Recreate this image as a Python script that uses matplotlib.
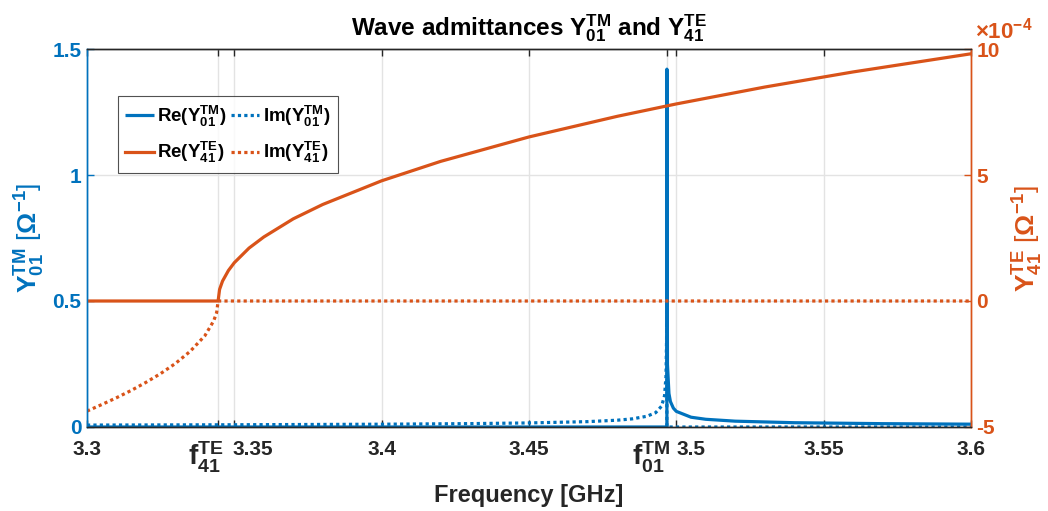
import matplotlib
matplotlib.use("Agg")
import matplotlib.pyplot as plt
from matplotlib.transforms import ScaledTranslation, blended_transform_factory

plt.rcParams['font.family'] = ['Liberation Sans', 'DejaVu Sans']
plt.rcParams['font.weight'] = 'bold'
plt.rcParams['mathtext.fontset'] = 'custom'
plt.rcParams['mathtext.bf'] = 'Liberation Sans:bold'
plt.rcParams['mathtext.rm'] = 'Liberation Sans:bold'
plt.rcParams['mathtext.it'] = 'Liberation Sans:bold'
plt.rcParams['mathtext.default'] = 'bf'

BLUE = '#0072BD'
ORANGE = '#D95319'
DARK = '#262626'

# ---------------- data ----------------
f41_te = 3.3445   # GHz, TE41 cutoff
f01_tm = 3.4968   # GHz, TM01 cutoff

# TE41 imaginary part (x1e-4 S)
te_im_f = [3.300, 3.305, 3.310, 3.315, 3.320, 3.325, 3.330, 3.335, 3.340,
           3.343, 3.344, 3.3445, 3.6]
te_im_v = [-4.37, -4.11, -3.84, -3.55, -3.23, -2.88, -2.48, -2.00, -1.38,
           -0.79, -0.46, 0.0, 0.0]

# TE41 real part (x1e-4 S)
te_re_f = [3.300, 3.3445, 3.345, 3.346, 3.348, 3.350, 3.355, 3.360, 3.370,
           3.380, 3.400, 3.420, 3.450, 3.480, 3.500, 3.530, 3.560, 3.600]
te_re_v = [0.0, 0.0, 0.46, 0.79, 1.21, 1.52, 2.10, 2.54, 3.26,
           3.83, 4.77, 5.54, 6.51, 7.33, 7.82, 8.49, 9.09, 9.81]

# TM01 imaginary part (S)
tm_im_f = [3.300, 3.350, 3.400, 3.430, 3.450, 3.470, 3.480, 3.485, 3.490,
           3.493, 3.495, 3.496, 3.4965, 3.4967, 3.49675, 3.49678, 3.4968, 3.600]
tm_im_v = [0.0076, 0.0089, 0.0110, 0.0134, 0.0161, 0.0213, 0.0270, 0.0322, 0.0425,
           0.0569, 0.0827, 0.124, 0.202, 0.351, 0.496, 0.70, 0.0, 0.0]

# TM01 real part (S)
tm_re_f = [3.300, 3.4968, 3.496806, 3.4970, 3.4975, 3.498, 3.499, 3.500, 3.505,
           3.510, 3.520, 3.540, 3.570, 3.600]
tm_re_v = [0.0, 0.0, 1.42, 0.248, 0.133, 0.101, 0.0748, 0.062, 0.0388,
           0.0306, 0.0231, 0.0170, 0.0132, 0.0112]

x_ticks = [3.3, f41_te, 3.35, 3.4, 3.45, f01_tm, 3.5, 3.55, 3.6]
x_ticklabels = ['3.3', r'$\mathbf{f_{41}^{TE}}$', '3.35', '3.4', '3.45',
                r'$\mathbf{f_{01}^{TM}}$', '3.5', '3.55', '3.6']
yl_ticks = [0, 0.5, 1, 1.5]
yl_ticklabels = ['0', '0.5', '1', '1.5']
yr_ticks = [-5, 0, 5, 10]
yr_ticklabels = ['-5', '0', '5', '10']

# ---------------- figure ----------------
fig = plt.figure(figsize=(10.48, 5.11), dpi=100)
ax = fig.add_axes([0.083, 0.1644, 0.8435, 0.7397])
ax2 = ax.twinx()

lw = 2.3
dots = (0, (1, 1))

l_tm_re, = ax.plot(tm_re_f, tm_re_v, color=BLUE, lw=lw, solid_capstyle='butt')
l_tm_im, = ax.plot(tm_im_f, tm_im_v, color=BLUE, lw=lw, linestyle=dots)
l_te_re, = ax2.plot(te_re_f, te_re_v, color=ORANGE, lw=lw)
l_te_im, = ax2.plot(te_im_f, te_im_v, color=ORANGE, lw=lw, linestyle=dots)

ax.set_xlim(3.3, 3.6)
ax.set_ylim(0, 1.5)
ax2.set_ylim(-5, 10)

ax.set_xticks(x_ticks)
ax.set_xticklabels([''] * len(x_ticks))
ax.set_yticks(yl_ticks)
ax.set_yticklabels(yl_ticklabels, fontsize=15, color=BLUE, fontweight='bold')
ax2.set_yticks(yr_ticks)
ax2.set_yticklabels(yr_ticklabels, fontsize=15, color=ORANGE, fontweight='bold')

# x tick labels drawn as texts so crowded ones can be nudged apart
shifts_px = {1: -12, 2: 18, 5: -16, 6: 15}
blend = blended_transform_factory(ax.transData, ax.transAxes)
for i, (xv, lab) in enumerate(zip(x_ticks, x_ticklabels)):
    dx = shifts_px.get(i, 0) / 100.0
    tr = blend + ScaledTranslation(dx, -13 / 100.0, fig.dpi_scale_trans)
    fs = 20 if i in (1, 5) else 15
    ax.text(xv, 0, lab, transform=tr, ha='center', va='top', fontsize=fs,
            fontweight='bold', color=DARK)

ax.grid(True, color='#e3e3e3', linewidth=1.0)
ax.set_axisbelow(True)

ax.tick_params(axis='x', direction='in', length=5, width=1, color=DARK,
               top=True, pad=11)
ax.tick_params(axis='y', direction='in', length=5, width=1, color=BLUE, pad=4)
ax2.tick_params(axis='y', direction='in', length=5, width=1, color=ORANGE, pad=4)

for a in (ax, ax2):
    a.spines['top'].set_color(DARK)
    a.spines['bottom'].set_color(DARK)
    a.spines['left'].set_color(BLUE)
    a.spines['right'].set_color(ORANGE)
    for s in a.spines.values():
        s.set_linewidth(1.0)

fig.text(0.5045, 1 - 495 / 511, 'Frequency [GHz]', fontsize=17,
         fontweight='bold', color=DARK, ha='center', va='center')
ax.set_ylabel(r'$\mathbf{Y_{01}^{TM}}$ [$\Omega^{\mathbf{-1}}$]', fontsize=19,
              color=BLUE, labelpad=4)
ax2.set_ylabel(r'$\mathbf{Y_{41}^{TE}}$ [$\Omega^{\mathbf{-1}}$]', fontsize=19,
               color=ORANGE, labelpad=8, rotation=90)
ax.set_title(r'Wave admittances $\mathbf{Y_{01}^{TM}}$ and $\mathbf{Y_{41}^{TE}}$',
             fontsize=17.5, fontweight='bold', color='black', pad=10)

fig.text(0.930, 0.915, r'$\times\mathbf{10^{-4}}$', fontsize=16, color=ORANGE,
         ha='left', va='bottom')

leg = ax2.legend([l_tm_re, l_te_re, l_tm_im, l_te_im],
                 [r'Re($\mathbf{Y_{01}^{TM}}$)', r'Re($\mathbf{Y_{41}^{TE}}$)',
                  r'Im($\mathbf{Y_{01}^{TM}}$)', r'Im($\mathbf{Y_{41}^{TE}}$)'],
                 ncol=2, loc='upper left', bbox_to_anchor=(0.035, 0.875),
                 prop={'size': 13.5, 'weight': 'bold'}, frameon=True,
                 fancybox=False, edgecolor=DARK, handlelength=1.5,
                 handletextpad=0.2, columnspacing=0.2, labelspacing=0.6,
                 borderpad=0.4, borderaxespad=0)
leg.get_frame().set_linewidth(0.8)

fig.savefig('out.png', dpi=100)
